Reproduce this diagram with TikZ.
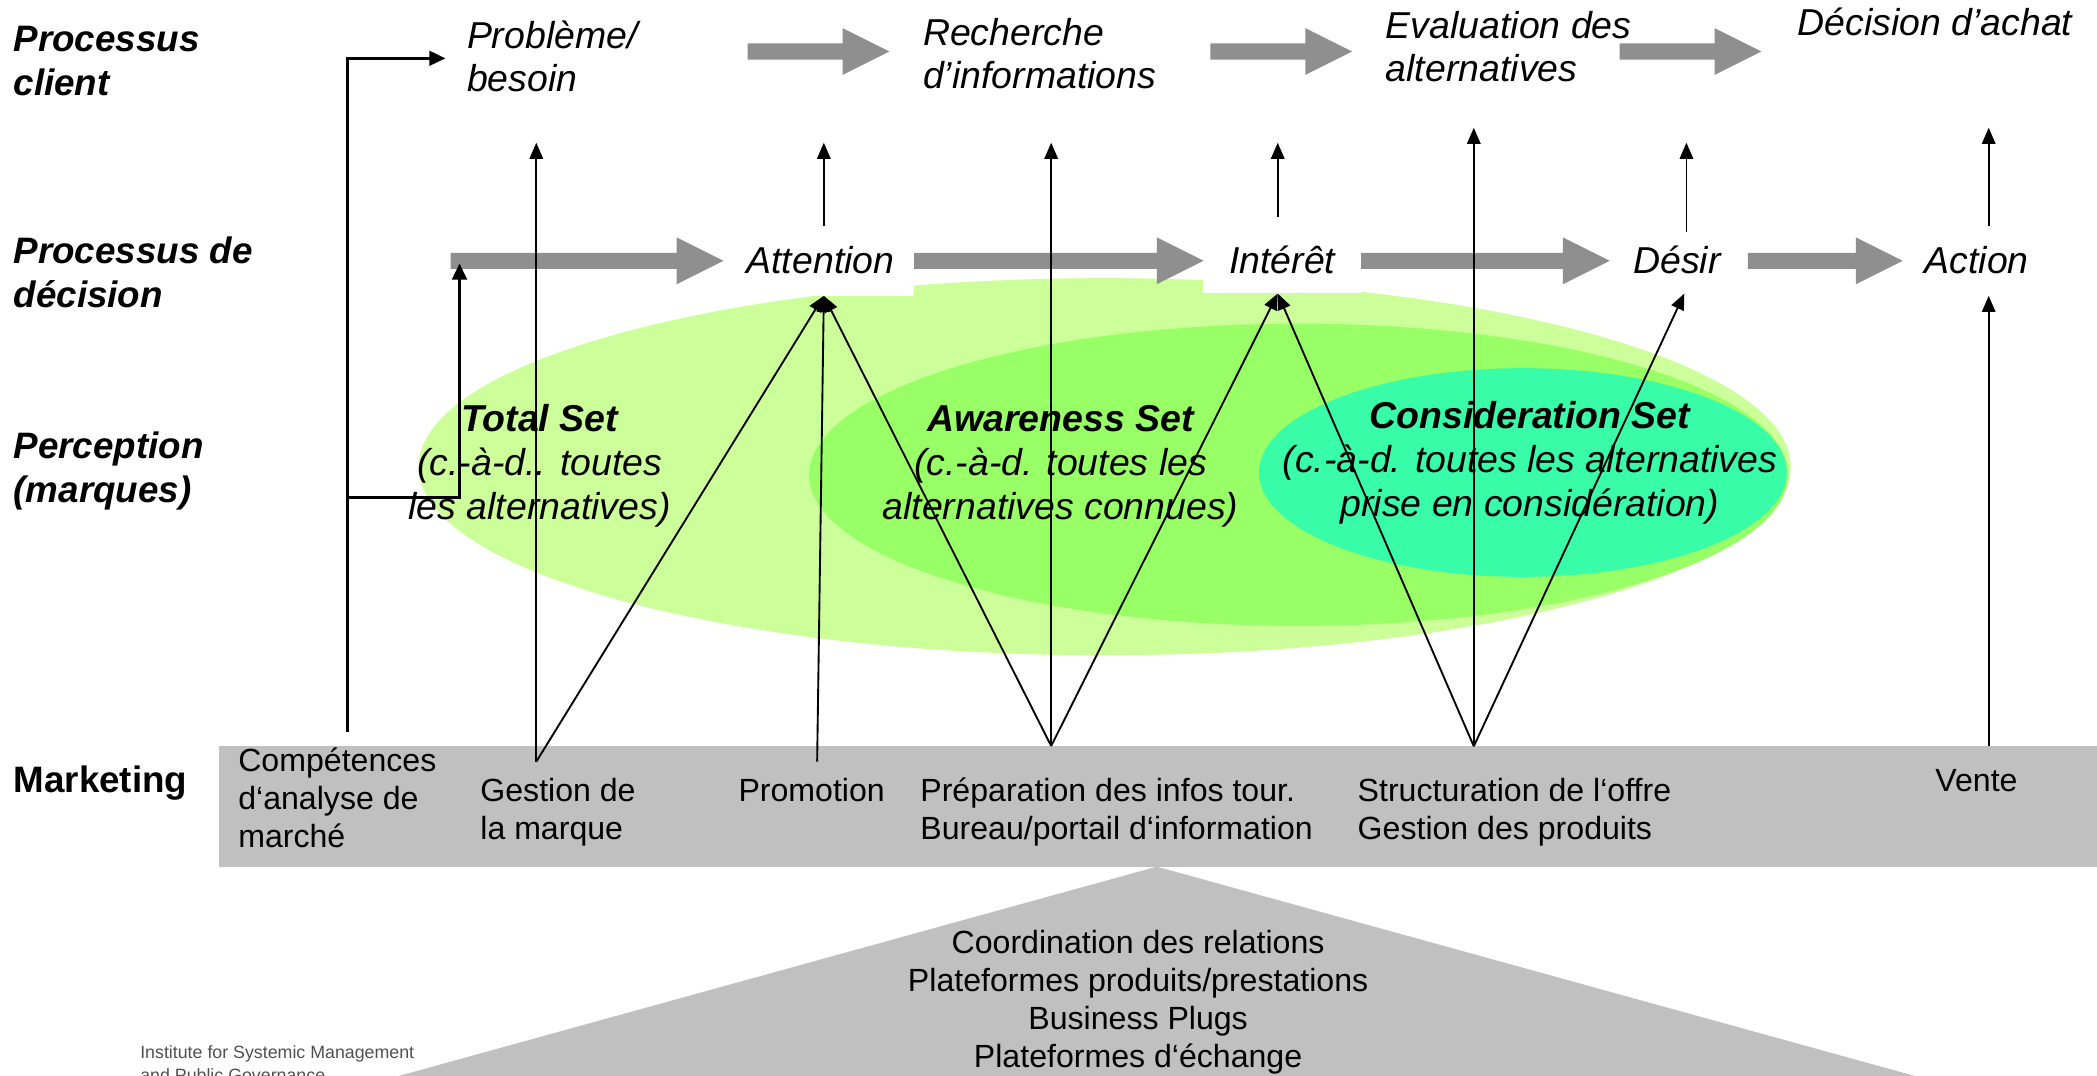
\documentclass[tikz,border=0pt]{standalone}
\usepackage{fontspec}
\setmainfont{Liberation Sans}
\usetikzlibrary{arrows.meta}
\definecolor{lgreen}{RGB}{204,255,153}
\definecolor{mgreen}{RGB}{153,255,102}
\definecolor{cgreen}{RGB}{56,252,168}
\definecolor{agray}{RGB}{143,143,143}
\definecolor{bgray}{RGB}{192,192,192}
\definecolor{ftgray}{RGB}{80,80,80}
\newcommand\myblockarrow[3]{%
  \fill[agray] (#1,#3-6) -- (#2-35,#3-6) -- (#2-35,#3-17.5) -- (#2,#3) -- (#2-35,#3+17.5) -- (#2-35,#3+6) -- (#1,#3+6) -- cycle;}
\begin{document}
\begin{tikzpicture}[x=1pt,y=-1pt,
  conn/.style={line width=1.4pt, -{Triangle[length=12pt,width=10pt]}},
  brk/.style={line width=2pt, -{Triangle[length=12pt,width=11pt]}},
  lbl/.style={inner sep=0, anchor=base west, align=left, font=\fontsize{27.5}{33}\selectfont\bfseries\itshape},
  stage/.style={inner sep=0, anchor=base west, align=left, font=\fontsize{28}{32.5}\selectfont\itshape},
  aida/.style={inner ysep=0, inner xsep=15pt, anchor=base, font=\fontsize{28}{33}\selectfont\itshape},
  setlbl/.style={inner sep=0, anchor=base, align=center, font=\fontsize{28}{33}\selectfont\itshape},
  mkt/.style={inner sep=0, anchor=base west, align=left, font=\fontsize{24}{28.5}\selectfont},
]
\useasboundingbox (0,0) rectangle (1568,804);
\clip (0,0) rectangle (1568,804);

% perception sets
\fill[lgreen] (826,349) ellipse [x radius=513pt, y radius=141pt];
\fill[mgreen] (971,355) ellipse [x radius=366pt, y radius=113pt];
\fill[cgreen] (1138.7,353.3) ellipse [x radius=197.3pt, y radius=78pt];

% marketing bar and platform triangle
\fill[bgray] (163.8,557.8) rectangle (1570,648.5);
\fill[bgray] (865,648) -- (1448,809) -- (282,809) -- cycle;

% left labels (base = last line)
\node[lbl] (lpc) at (10,71.6) {Processus\\client};
\node[lbl] (lpd) at (10,230) {Processus de\\décision};
\node[lbl] (lpm) at (10,376) {Perception\\(marques)};
\node[lbl, font=\fontsize{27.5}{33}\selectfont\bfseries] (lmk) at (10,592.5) {Marketing};

% client process
\node[stage] (prob) at (349,68.5) {Problème/\\besoin};
\node[stage] (rech) at (690,66.5) {Recherche\\d’informations};
\node[stage] (eval) at (1036,61.2) {Evaluation des\\alternatives};
\node[stage] (dach) at (1344,26.2) {Décision d’achat};
\myblockarrow{559}{665}{38.5}
\myblockarrow{905}{1011}{38.5}
\myblockarrow{1211}{1317}{38.5}

% decision process
\node[aida, fill=white, text height=34.9pt, text depth=16.6pt] (att) at (613.5,204.4) {Attention};
\node[aida, fill=white, inner xsep=19.5pt, text height=41.9pt, text depth=14.9pt] (int) at (958.7,204.4) {Intérêt};
\node[aida, text height=30.4pt, text depth=14.9pt] (des) at (1254,204.4) {Désir};
\node[aida, text height=34.9pt, text depth=16.6pt] (act) at (1478,204.4) {Action};
\myblockarrow{337}{541}{195}
\myblockarrow{683.6}{900}{195}
\myblockarrow{1017.7}{1203.6}{195}
\myblockarrow{1307}{1422.7}{195}

% set labels
\node[setlbl] (tot) at (403.5,388.8) {\textbf{Total Set}\\(c.-à-d.. toutes\\les alternatives)};
\node[setlbl] (awa) at (793,388.8) {\textbf{Awareness Set}\\(c.-à-d. toutes les\\alternatives connues)};
\node[setlbl] (con) at (1144,386.3) {\textbf{Consideration Set}\\(c.-à-d. toutes les alternatives\\prise en considération)};

% marketing items
\node[mkt] (comp) at (178,634) {Compétences\\d‘analyse de\\marché};
\node[mkt] (gest) at (359,627.9) {Gestion de\\la marque};
\node[mkt] (promo) at (552,599.4) {Promotion};
\node[mkt] (prep) at (688,627.9) {Préparation des infos tour.\\Bureau/portail d‘information};
\node[mkt] (struct) at (1015,627.9) {Structuration de l‘offre\\Gestion des produits};
\node[mkt] (vente) at (1447,592) {Vente};
\node[inner sep=0, anchor=base, align=center, font=\fontsize{24}{28.5}\selectfont] (plat) at (851,798.5) {Coordination des relations\\Plateformes produits/prestations\\Business Plugs\\Plateformes d‘échange};
\node[inner sep=0, anchor=base west, align=left, text=ftgray, font=\fontsize{13.3}{16.5}\selectfont] (inst) at (104.7,808.3) {Institute for Systemic Management\\and Public Governance};

% connector ports
\coordinate (compA) at (260,547);
\coordinate (compB) at (260,371.9);
\coordinate (probIn) at (333,43.6);
\coordinate (flowIn) at (343.6,197);
\coordinate (gestP) at (401,569.5);
\coordinate (probB) at (401,106.7);
\coordinate (promP) at (611,569.5);
\coordinate (prepP) at (786,557.8);
\coordinate (rechB) at (786,106.7);
\coordinate (structP) at (1102,558);
\coordinate (evalB) at (1102,95.5);
\coordinate (venteP) at (1487,558);
\coordinate (ba1B) at (616,106.7);
\coordinate (ba2B) at (955.4,106.7);
\coordinate (ba3B) at (1261,106.7);
\coordinate (dachB) at (1487,95.5);

% connectors
\draw[brk] (compA) |- (probIn);
\draw[brk] (compB) -| (flowIn);
\draw[conn] (gestP) -- (probB);
\draw[conn] (gestP) -- ([xshift=2.5pt]att.south);
\draw[conn] (promP) -- ([xshift=2.5pt]att.south);
\draw[conn] (prepP) -- ([xshift=2.5pt]att.south);
\draw[conn] (prepP) -- (rechB);
\draw[conn] (prepP) -- ([xshift=-3.3pt]int.south);
\draw[conn] (structP) -- ([xshift=-3.3pt]int.south);
\draw[conn] (structP) -- (evalB);
\draw[conn] (structP) -- ([xshift=5.4pt]des.south);
\draw[conn] (venteP) -- ([xshift=9pt]act.south);
\draw[conn] ([xshift=2.5pt]att.north) -- (ba1B);
\draw[conn] ([xshift=-3.3pt]int.north) -- (ba2B);
\draw[conn] ([xshift=7pt]des.north) -- (ba3B);
\draw[conn] ([xshift=9pt]act.north) -- (dachB);
\end{tikzpicture}
\end{document}
